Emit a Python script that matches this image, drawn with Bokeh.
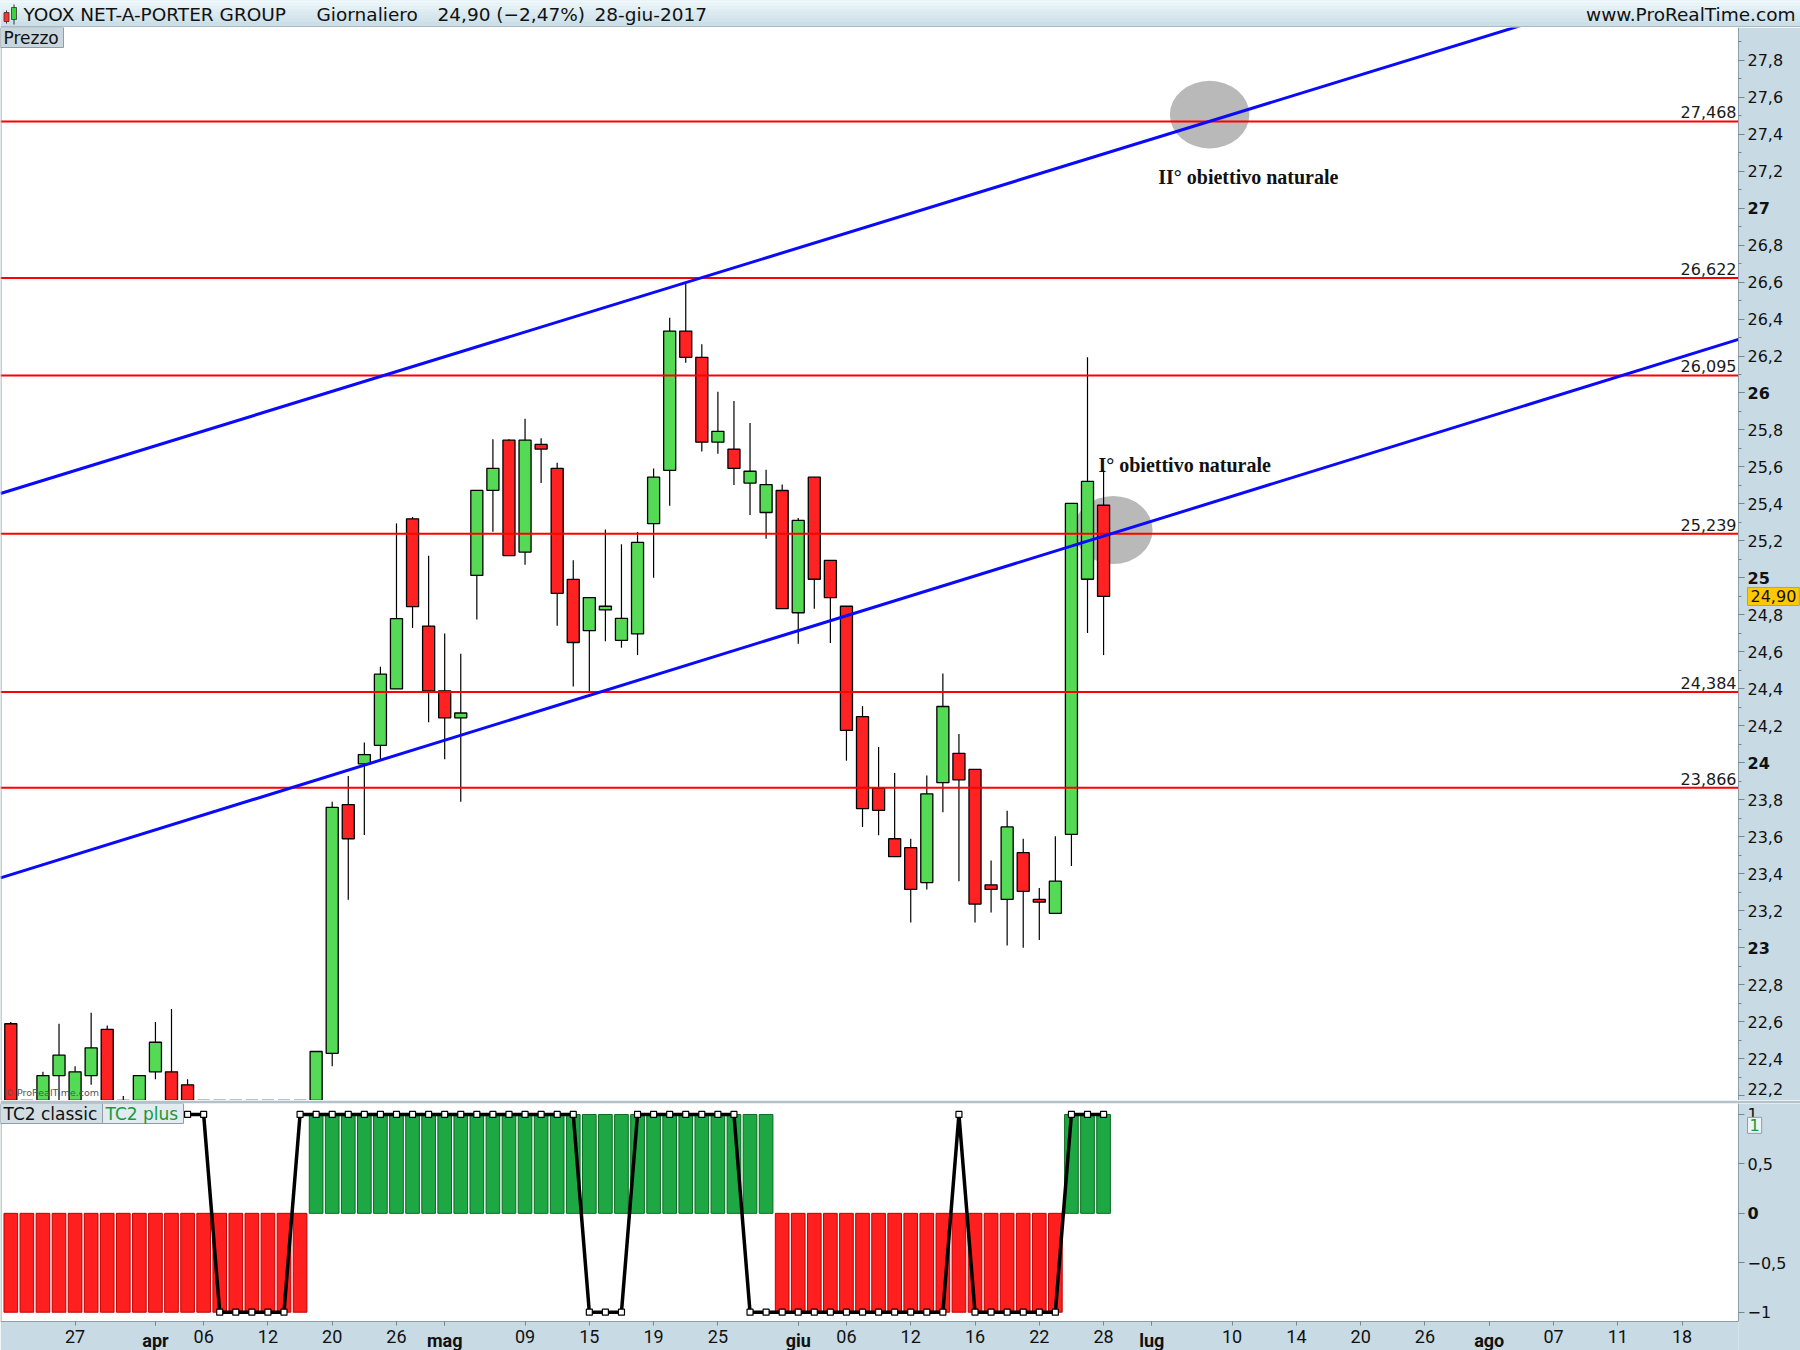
import numpy as np
import pandas as pd
from bokeh.plotting import figure
from bokeh.models import Range1d, FixedTicker, Label, ColumnDataSource, LinearAxis
from bokeh.layouts import column
from bokeh.embed import file_html
from bokeh.resources import INLINE
from bokeh.core.properties import value

# ---------------- data ----------------
trade_dates = pd.bdate_range("2017-03-21", "2017-06-28", freq="C",
                             holidays=["2017-04-14", "2017-04-17", "2017-05-01"]).strftime("%Y-%m-%d").tolist()

opens = [22.59, 21.98, 22.05, 22.31, 22.08, 22.31, 22.56, 22.05, 21.96, 22.33,
         22.33, 22.26, 21.93, 21.85, 21.78, 21.70, 21.62, 21.58, 21.75, 21.98,
         22.43, 23.775, 23.995, 24.095, 24.40, 25.32, 24.74, 24.39, 24.244, 25.014,
         25.474, 25.745, 25.14, 25.722, 25.593, 24.992, 24.715, 24.827, 24.663, 24.698,
         25.294, 25.582, 26.335, 26.193, 25.734, 25.696, 25.513, 25.354, 25.473, 24.812,
         25.545, 25.095, 24.847, 24.25, 23.863, 23.59, 23.542, 23.353, 23.893, 24.052,
         23.965, 23.341, 23.262, 23.515, 23.262, 23.187, 23.614, 24.993, 25.393]
highs = [22.60, 22.12, 22.33, 22.59, 22.36, 22.65, 22.58, 22.20, 22.31, 22.60,
         22.67, 22.29, 22.10, 22.05, 21.95, 21.88, 21.80, 21.85, 22.05, 22.44,
         23.79, 23.93, 24.11, 24.52, 25.295, 25.33, 25.12, 24.70, 24.59, 25.474,
         25.75, 25.75, 25.861, 25.755, 25.623, 25.096, 24.894, 25.262, 25.182, 25.249,
         25.592, 26.407, 26.591, 26.263, 26.007, 25.957, 25.838, 25.585, 25.505, 25.324,
         25.545, 25.095, 24.847, 24.307, 24.086, 23.945, 23.59, 23.932, 24.484, 24.156,
         23.965, 23.473, 23.741, 23.59, 23.324, 23.604, 25.403, 26.193, 25.585]
lows = [21.90, 21.85, 21.98, 22.10, 22.02, 22.26, 21.95, 21.92, 21.90, 22.29,
        21.95, 21.88, 21.80, 21.70, 21.62, 21.55, 21.50, 21.50, 21.68, 21.92,
        22.36, 23.26, 23.61, 24.02, 24.40, 24.73, 24.22, 24.02, 23.79, 24.775,
        25.25, 25.121, 25.071, 25.513, 24.741, 24.413, 24.38, 24.658, 24.623, 24.583,
        25.001, 25.391, 26.163, 25.684, 25.672, 25.503, 25.341, 25.212, 24.834, 24.645,
        24.834, 24.648, 24.012, 23.654, 23.609, 23.493, 23.137, 23.316, 23.734, 23.361,
        23.137, 23.192, 23.013, 23.001, 23.043, 23.187, 23.443, 24.703, 24.583]
closes = [21.98, 22.05, 22.31, 22.42, 22.33, 22.46, 22.02, 21.98, 22.31, 22.49,
          22.02, 21.93, 21.85, 21.78, 21.70, 21.62, 21.58, 21.75, 21.95, 22.44,
          23.76, 23.59, 24.045, 24.48, 24.78, 24.845, 24.39, 24.244, 24.27, 25.474,
          25.593, 25.121, 25.745, 25.697, 24.917, 24.651, 24.894, 24.847, 24.782, 25.192,
          25.545, 26.335, 26.193, 25.734, 25.793, 25.592, 25.577, 25.505, 24.834, 25.311,
          24.993, 24.894, 24.176, 23.753, 23.744, 23.493, 23.316, 23.833, 24.305, 23.908,
          23.237, 23.316, 23.654, 23.306, 23.247, 23.361, 25.403, 25.522, 24.90]

tc2_plus = [-1] * 19 + [1] * 29 + [-1] * 18 + [1] * 3
tc2_classic = ([1] * 13 + [-1] * 5 + [1] * 18 + [-1] * 3 + [1] * 7 +
               [-1] * 13 + [1] + [-1] * 6 + [1] * 3)

levels = [27.468, 26.622, 26.095, 25.239, 24.384, 23.866]
level_labels = ["27,468", "26,622", "26,095", "25,239", "24,384", "23,866"]

# trend-line anchor points (bar index, price)
upper_anchor_x = [0, 42]
upper_anchor_y = [25.474, 26.597]
lower_anchor_x = [0, 36]
lower_anchor_y = [23.396, 24.365]

# targets (bar index, price) and their notes
target_x = [74.6, 68.6]
target_y = [27.505, 25.259]
target_w = [4.95, 4.9]
target_h = [0.365, 0.368]
note_x = [71.4, 67.68]
note_y = [27.169, 25.61]
note_text = ["II° obiettivo naturale", "I° obiettivo naturale"]

# x axis (bar index of each labelled day, including future sessions)
tick_idx = [4, 9, 12, 16, 20, 24, 27, 32, 36, 40, 44, 49, 52, 56, 60, 64, 68,
            71, 76, 80, 84, 88, 92, 96, 100, 104]
tick_labels = ["27", "apr", "06", "12", "20", "26", "mag", "09", "15", "19", "25",
               "giu", "06", "12", "16", "22", "28", "lug", "10", "14", "20", "26",
               "ago", "07", "11", "18"]
month_names = ["apr", "mag", "giu", "lug", "ago"]

price_ticks = [round(22.2 + 0.2 * k, 1) for k in range(29)]
price_minor = [round(22.1 + 0.1 * k, 1) for k in range(59)]
ind_ticks = [-1, -0.5, 0, 0.5, 1]
ind_tick_labels = ["−1", "−0,5", "0", "0,5", "1"]

last_price = "24,90"
title_parts = ["YOOX NET-A-PORTER GROUP", "Giornaliero", "24,90 (−2,47%)", "28-giu-2017"]

assert len(trade_dates) == len(opens) == len(highs) == len(lows) == len(closes) == 69
assert len(tc2_plus) == 69 and len(tc2_classic) == 69


def fmt(t):
    return ("%.1f" % t).replace(".", ",")


# ---------------- layout constants ----------------
TOTAL_W = 1800
AXIS_W = 62
PW = TOTAL_W - AXIS_W
PH = 1073
IH = 218
XAX_H = 29
HEAD_H = 27
AXIS_BG = "#c8dae4"
FRAME_COL = "#8d9ea8"
TICK_COL = "#75868f"
X0, X1 = -0.641, 107.51
Y0, Y1 = 22.175, 27.976
YI0, YI1 = -1.094, 1.111
ppx = PW / (X1 - X0)
ppy = PH / (Y1 - Y0)
ppyi = IH / (YI1 - YI0)
XR = X1 + AXIS_W / ppx            # right end including axis band
YB = YI0 - XAX_H / ppyi           # bottom including date band
DV = value("DejaVu Sans")

idx = list(range(len(opens)))

# ---------------- header ----------------
hd = figure(frame_width=TOTAL_W, frame_height=HEAD_H, x_range=Range1d(0, TOTAL_W),
            y_range=Range1d(0, HEAD_H), toolbar_location=None, output_backend="svg",
            min_border=0, x_axis_location=None, y_axis_location=None,
            outline_line_color=None, background_fill_color="#d6e8ef",
            border_fill_color="#d6e8ef")
hd.grid.visible = False
c_top = np.array([238, 248, 251])
c_bot = np.array([200, 220, 230])
nstripe = 9
for k in range(nstripe):
    t = k / (nstripe - 1)
    col = c_top * (1 - t) + c_bot * t
    hd.quad(left=0, right=TOTAL_W, top=HEAD_H - k * 3, bottom=HEAD_H - (k + 1) * 3,
            fill_color="#%02x%02x%02x" % tuple(int(v) for v in col), line_color=None)
hd.segment(x0=0, y0=0.5, x1=TOTAL_W, y1=0.5, line_color=FRAME_COL, line_width=1)
# tiny candlestick icon
hd.segment(x0=[6, 13.5], y0=[4, 3], x1=[6, 13.5], y1=[17, 23], line_color="#333", line_width=1)
hd.quad(left=[3.5, 11], right=[8.5, 16], bottom=[6, 8], top=[15, 20],
        fill_color=["#ff3030", "#40d040"], line_color="#333", line_width=0.8)
hd.text(x=[23, 316, 437, 594], y=[13.5] * 4, text=title_parts, text_font=DV,
        text_font_size="18.5px", text_color="#111", text_baseline="middle")
hd.text(x=[TOTAL_W - 5], y=[13.5], text=["www.ProRealTime.com"], text_font=DV,
        text_font_size="18.5px", text_color="#111", text_align="right", text_baseline="middle")

# ---------------- price panel ----------------
p = figure(frame_width=TOTAL_W, frame_height=PH, x_range=Range1d(X0, XR), y_range=Range1d(Y0, Y1),
           x_axis_location=None, y_axis_location=None, toolbar_location=None,
           output_backend="svg", min_border=0, background_fill_color="white",
           border_fill_color=AXIS_BG, outline_line_color=None)
p.grid.visible = False

# target ellipses (beneath everything)
p.ellipse(x=target_x, y=target_y, width=target_w, height=target_h,
          fill_color="#b9b9b9", line_color=None)

# candles
src = ColumnDataSource(dict(
    x=idx, o=opens, h=highs, l=lows, c=closes,
    top=[max(o, c) for o, c in zip(opens, closes)],
    bottom=[min(o, c) for o, c in zip(opens, closes)],
    color=["#55da55" if c >= o else "#ff2222" for o, c in zip(opens, closes)],
))
p.segment(x0="x", y0="l", x1="x", y1="h", source=src, line_color="black", line_width=1.2)
p.vbar(x="x", top="top", bottom="bottom", width=0.75, source=src,
       fill_color="color", line_color="black", line_width=1.3)

# horizontal levels
p.segment(x0=[X0] * len(levels), y0=levels, x1=[X1] * len(levels), y1=levels,
          line_color="#ff0000", line_width=2)
p.text(x=[X1 - 2 / ppx] * len(levels), y=[lv + 9 / ppy for lv in levels], text=level_labels,
       text_font=DV, text_font_size="16px", text_color="#1a1a1a",
       text_align="right", text_baseline="alphabetic")


# trend channel
def extend(ax_, ay_):
    s = (ay_[1] - ay_[0]) / (ax_[1] - ax_[0])
    return [X0, X1], [ay_[0] + s * (X0 - ax_[0]), ay_[0] + s * (X1 - ax_[0])]


for axx, ayy in [(upper_anchor_x, upper_anchor_y), (lower_anchor_x, lower_anchor_y)]:
    lx, ly = extend(axx, ayy)
    p.line(lx, ly, line_color="#0a0aff", line_width=3)

# notes
p.text(x=note_x, y=note_y, text=note_text, text_font=value("Liberation Serif"),
       text_font_style="bold", text_font_size="20px", text_color="#111",
       text_baseline="alphabetic", text_align="left")

# axis band background and frame edges
p.quad(left=[X1], right=[XR], bottom=[Y0], top=[Y1], fill_color=AXIS_BG, line_color=None)
p.segment(x0=[X0 + 0.5 / ppx], y0=[Y0], x1=[X0 + 0.5 / ppx], y1=[Y1],
          line_color=FRAME_COL, line_width=1)

# "Prezzo" tab
p.quad(left=[X0], right=[X0 + 63 / ppx], top=[Y1], bottom=[Y1 - 20 / ppy],
       fill_color="#c9d6dd", line_color=FRAME_COL, line_width=1)
p.text(x=[X0 + 3 / ppx], y=[Y1 - 10.5 / ppy], text=["Prezzo"], text_font=DV,
       text_font_size="17px", text_color="#111", text_baseline="middle")
p.text(x=[X0 + 4 / ppx], y=[Y0 + 2.5 / ppy], text=["© ProRealTime.com"], text_font=DV,
       text_font_size="9.5px", text_color="#555", text_baseline="bottom")

# price axis (normal labels) + bold integer labels, both anchored at the frame edge
int_ticks = [t for t in price_ticks if abs(t - round(t)) < 1e-9]
edge_tick = price_ticks[0]   # its label is nudged up so that it stays inside the panel
ax_n = LinearAxis(fixed_location=X1,
                  ticker=FixedTicker(ticks=price_ticks, minor_ticks=price_minor),
                  major_label_overrides={t: ("" if (t in int_ticks or t == edge_tick) else fmt(t))
                                         for t in price_ticks})
ax_b = LinearAxis(fixed_location=X1, ticker=FixedTicker(ticks=int_ticks, minor_ticks=[]),
                  major_label_overrides={t: str(int(round(t))) for t in int_ticks},
                  major_label_text_font_style="bold", axis_line_color=None)
for a in (ax_n, ax_b):
    a.major_label_text_font = "DejaVu Sans"
    a.major_label_text_font_size = "16px"
    a.major_label_text_color = "#111"
    a.major_tick_in = 0
    a.major_tick_out = 6
    a.minor_tick_in = 0
    a.minor_tick_out = 3
    a.major_label_standoff = 3
    a.major_tick_line_color = TICK_COL
    a.minor_tick_line_color = TICK_COL
ax_n.axis_line_color = FRAME_COL
p.add_layout(ax_n, "right")
p.add_layout(ax_b, "right")
p.text(x=[X1 + 9 / ppx], y=[edge_tick + 7 / ppy], text=[fmt(edge_tick)], text_font=DV,
       text_font_size="16px", text_color="#111", text_baseline="middle", text_align="left")

# last price tag
p.add_layout(Label(x=X1 + 9 / ppx, y=closes[-1], text=last_price, text_font="DejaVu Sans",
                   text_font_size="16px", text_color="#111", text_baseline="middle",
                   text_align="left", background_fill_color="#ffc800",
                   border_line_color="#a0a0a0", padding=3))

# ---------------- indicator panel ----------------
ind = figure(frame_width=TOTAL_W, frame_height=IH + XAX_H, x_range=p.x_range,
             y_range=Range1d(YB, YI1), x_axis_location=None, y_axis_location=None,
             toolbar_location=None, output_backend="svg", min_border=0, min_border_top=3,
             background_fill_color="white", border_fill_color="#b3c2ca",
             outline_line_color=None)
ind.grid.visible = False

ind.vbar(x=idx, top=tc2_plus, bottom=0, width=0.85,
         fill_color=["#1ea844" if v > 0 else "#ff1f1f" for v in tc2_plus],
         line_color=["#0b6a22" if v > 0 else "#c00000" for v in tc2_plus], line_width=1)
ind.line(idx, tc2_classic, line_color="black", line_width=3.5)
ind.scatter(idx, tc2_classic, marker="square", size=6, fill_color="white",
            line_color="black", line_width=1.2)

# bands for the axes
ind.quad(left=[X1, X0], right=[XR, X1], bottom=[YB, YB], top=[YI1, YI0],
         fill_color=AXIS_BG, line_color=None)
ind.segment(x0=[X0 + 0.5 / ppx, X0, X1], y0=[YI0, YI0, YI0], x1=[X0 + 0.5 / ppx, X1, X1],
            y1=[YI1, YI0, YI1], line_color=FRAME_COL, line_width=1)

# indicator name tabs
ind.quad(left=[X0, X0 + 102 / ppx], right=[X0 + 102 / ppx, X0 + 183 / ppx],
         top=[YI1, YI1], bottom=[YI1 - 20 / ppyi] * 2,
         fill_color=["#d3dee4", "#e2ebef"], line_color=FRAME_COL, line_width=1)
ind.text(x=[X0 + 3 / ppx, X0 + 105 / ppx], y=[YI1 - 10.5 / ppyi] * 2,
         text=["TC2 classic", "TC2 plus"], text_font=DV, text_font_size="17px",
         text_color=["#111", "#169a3a"], text_baseline="middle")

iy_n = LinearAxis(fixed_location=X1, ticker=FixedTicker(ticks=ind_ticks, minor_ticks=[]),
                  major_label_overrides={t: ("" if t == 0 else lab)
                                         for t, lab in zip(ind_ticks, ind_tick_labels)})
iy_b = LinearAxis(fixed_location=X1, ticker=FixedTicker(ticks=[0], minor_ticks=[]),
                  major_label_overrides={0: "0"}, major_label_text_font_style="bold")
for a in (iy_n, iy_b):
    a.major_label_text_font = "DejaVu Sans"
    a.major_label_text_font_size = "16px"
    a.major_label_text_color = "#111"
    a.major_tick_in = 0
    a.major_tick_out = 6
    a.major_label_standoff = 3
    a.axis_line_color = None
    a.major_tick_line_color = TICK_COL
ind.add_layout(iy_n, "right")
ind.add_layout(iy_b, "right")
ind.add_layout(Label(x=X1 + 9 / ppx, y=0.89, text="1", text_font="DejaVu Sans", text_font_size="16px",
                     text_color="#169a3a", text_baseline="middle", text_align="left",
                     background_fill_color="#eef3f5", border_line_color=FRAME_COL, padding=2))

day_ticks = list(tick_idx)
month_ticks = [i for i, lab in zip(tick_idx, tick_labels) if lab in month_names]
ix_n = LinearAxis(fixed_location=YI0, ticker=FixedTicker(ticks=day_ticks, minor_ticks=[]),
                  major_label_overrides={i: ("" if lab in month_names else lab)
                                         for i, lab in zip(tick_idx, tick_labels)})
ix_b = LinearAxis(fixed_location=YI0, ticker=FixedTicker(ticks=month_ticks, minor_ticks=[]),
                  major_label_overrides={i: lab for i, lab in zip(tick_idx, tick_labels)
                                         if lab in month_names},
                  major_label_text_font_style="bold")
for a in (ix_n, ix_b):
    a.major_label_text_font = "Roboto"
    a.major_label_text_font_size = "18px"
    a.major_label_text_color = "#111"
    a.major_tick_in = 0
    a.major_tick_out = 4
    a.major_label_standoff = 4
    a.axis_line_color = None
    a.major_tick_line_color = TICK_COL
ind.add_layout(ix_n, "below")
ind.add_layout(ix_b, "below")

layout = column(hd, p, ind, spacing=0)
open("out.html", "w").write(file_html(layout, INLINE))
